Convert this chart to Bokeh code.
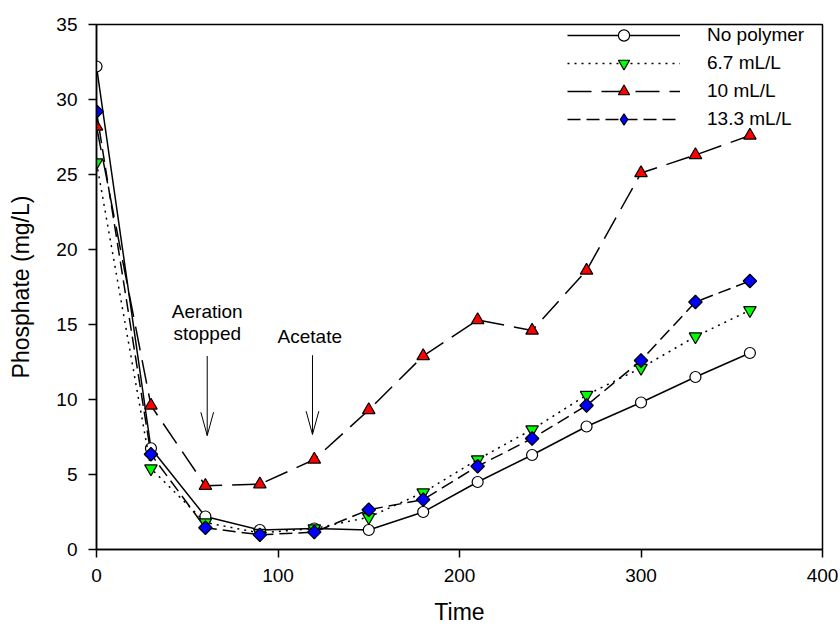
import numpy as np
from bokeh.plotting import figure
from bokeh.models import Range1d, FixedTicker, Legend, LegendItem
from bokeh.core.properties import value
from bokeh.embed import file_html
from bokeh.resources import INLINE

# ---- data ----
time = [0, 30, 60, 90, 120, 150, 180, 210, 240, 270, 300, 330, 360]
no_polymer = [32.2, 6.75, 2.2, 1.3, 1.4, 1.3, 2.5, 4.5, 6.3, 8.2, 9.8, 11.5, 13.1]
ml_6_7 = [25.8, 5.4, 1.8, 1.1, 1.4, 2.15, 3.8, 6.0, 8.0, 10.3, 12.1, 14.2, 15.95]
ml_10 = [28.2, 9.6, 4.25, 4.35, 6.0, 9.3, 12.9, 15.3, 14.6, 18.6, 25.1, 26.3, 27.6]
ml_13_3 = [29.2, 6.35, 1.45, 0.98, 1.16, 2.65, 3.33, 5.55, 7.4, 9.6, 12.6, 16.5, 17.9]

series_labels = ["No polymer", "6.7 mL/L", "10 mL/L", "13.3 mL/L"]

x_ticks = [0, 100, 200, 300, 400]
y_ticks = [0, 5, 10, 15, 20, 25, 30, 35]

ann_text = ["Aeration", "stopped", "Acetate"]
ann_x = [61, 61, 117.5]
ann_y = [15.85, 14.43, 14.22]

arrow_x = [61, 119]
arrow_top = [12.9, 12.95]
arrow_tip = [7.6, 7.67]

FONT = "Liberation Sans"

p = figure(width=840, height=630,
           x_range=Range1d(0, 400), y_range=Range1d(0, 35),
           output_backend="svg", toolbar_location=None,
           min_border_left=96, min_border_right=18,
           min_border_top=24, min_border_bottom=81)

p.grid.grid_line_color = None
p.outline_line_color = "black"
p.outline_line_width = 1.5
p.background_fill_color = "white"
p.border_fill_color = "white"

for ax in (p.xaxis, p.yaxis):
    ax.axis_line_color = "black"
    ax.axis_line_width = 1.5
    ax.major_tick_line_color = "black"
    ax.major_tick_line_width = 1.5
    ax.major_tick_out = 8
    ax.major_tick_in = 0
    ax.minor_tick_line_color = None
    ax.major_label_text_font = FONT
    ax.major_label_text_font_size = "19px"
    ax.major_label_text_color = "black"
    ax.major_label_standoff = 11
    ax.axis_label_text_font = FONT
    ax.axis_label_text_font_size = "23px"
    ax.axis_label_text_font_style = "normal"
    ax.axis_label_text_color = "black"

p.xaxis.ticker = FixedTicker(ticks=x_ticks)
p.yaxis.ticker = FixedTicker(ticks=y_ticks)

p.yaxis.axis_label = "Phosphate (mg/L)"
p.yaxis.axis_label_standoff = 19
p.xaxis.axis_label = "Time"
p.xaxis.axis_label_standoff = 14

# ---- series ----
styles = [
    dict(dash="solid", marker="circle", fill="white", size=11, angle=0.0),
    dict(dash="2 5", marker="inverted_triangle", fill="#00ff00", size=12.5, angle=0.0),
    dict(dash="24 10", marker="triangle", fill="#ff0000", size=12.5, angle=0.0),
    dict(dash="13 6", marker="square", fill="#0000ff", size=9.5, angle=np.pi / 4),
]
data = [no_polymer, ml_6_7, ml_10, ml_13_3]

items = []
for label, ys, st in zip(series_labels, data, styles):
    ln = p.line(time, ys, line_color="black", line_width=1.5, line_dash=st["dash"])
    if st["angle"] != 0.0:
        # narrow diamond hidden beneath the rotated square: used for the legend
        # (legend glyphs are always drawn unrotated)
        lg = p.scatter(time, ys, marker="diamond", size=13,
                       fill_color=st["fill"], line_color="black", line_width=1.2)
    sc = p.scatter(time, ys, marker=st["marker"], size=st["size"], angle=st["angle"],
                   fill_color=st["fill"], line_color="black", line_width=1.2)
    items.append(LegendItem(label=label, renderers=[ln, lg if st["angle"] != 0.0 else sc]))

legend = Legend(items=items, location=(471, 416),
                glyph_width=113, glyph_height=28, label_height=20,
                spacing=0, padding=0, margin=0, label_standoff=27,
                label_text_font=FONT, label_text_font_size="19px",
                label_text_color="black",
                border_line_color=None, background_fill_alpha=0)
p.add_layout(legend)

# ---- annotations ----
p.text(x=ann_x, y=ann_y, text=ann_text, text_font=value(FONT),
       text_font_size=value("19px"), text_align="center",
       text_baseline="alphabetic", text_color="black")

ax_ = np.array(arrow_x, dtype=float)
tip = np.array(arrow_tip, dtype=float)
head_hw = 3.5   # head half width (x units)
head_len = 1.55  # head length (y units)
p.segment(x0=arrow_x, y0=arrow_top, x1=arrow_x, y1=arrow_tip,
          line_color="black", line_width=1)
p.segment(x0=list(ax_ - head_hw), y0=list(tip + head_len), x1=arrow_x, y1=arrow_tip,
          line_color="black", line_width=1)
p.segment(x0=list(ax_ + head_hw), y0=list(tip + head_len), x1=arrow_x, y1=arrow_tip,
          line_color="black", line_width=1)

open("out.html", "w").write(file_html(p, INLINE))
